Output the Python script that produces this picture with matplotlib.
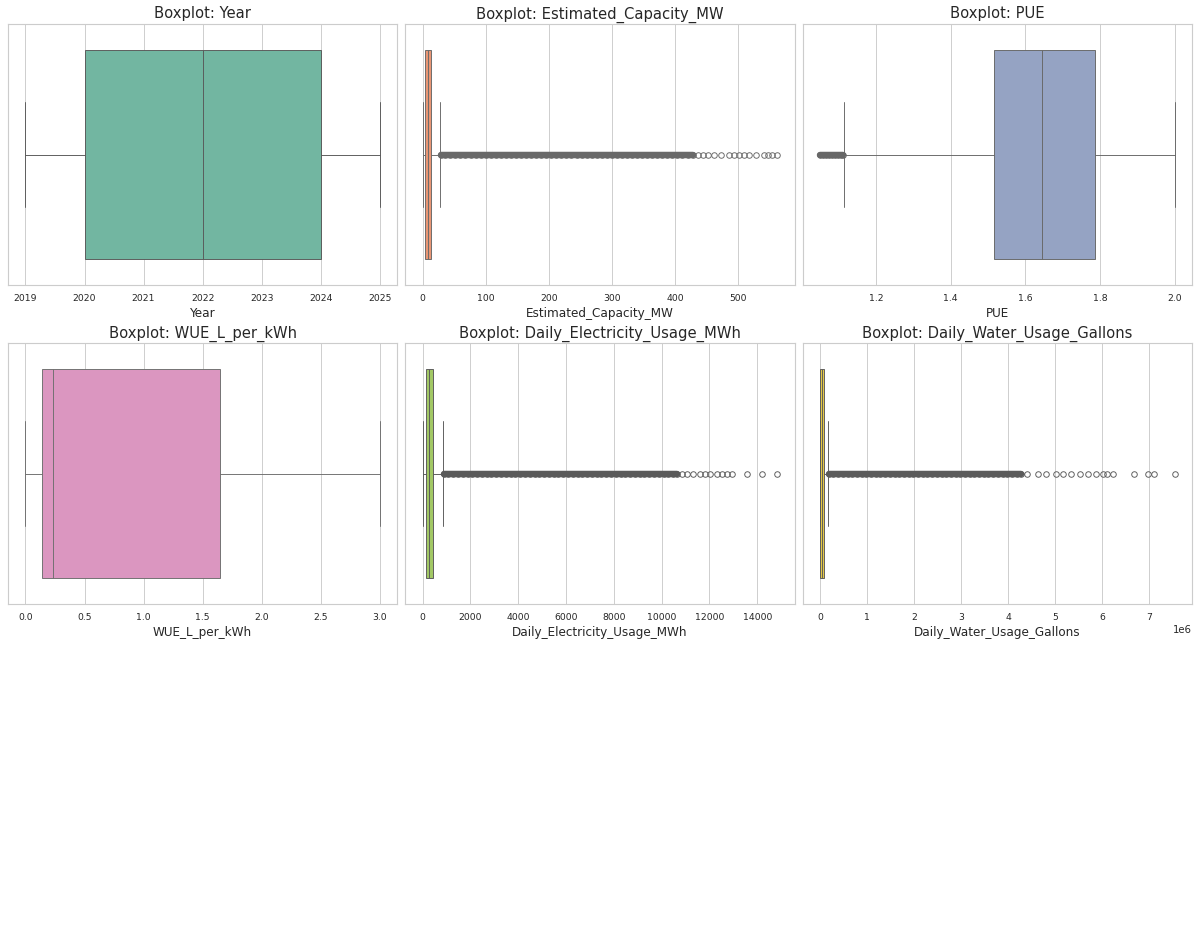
"""Boxplots of the data-centre numeric columns, one panel per column."""

import matplotlib

matplotlib.use("Agg")

import matplotlib.pyplot as plt
import seaborn as sns

COLUMNS = [
    "Year",
    "Estimated_Capacity_MW",
    "PUE",
    "WUE_L_per_kWh",
    "Daily_Electricity_Usage_MWh",
    "Daily_Water_Usage_Gallons",
]

# box stats: whislo, q1, median, q3, whishi
WHISLO = [2019, 0.5, 1.113, 0.0, 10, 0]
Q1 = [2020, 4.0, 1.516, 0.136, 140, 2000]
MEDIAN = [2022, 8.0, 1.644, 0.233, 252, 30000]
Q3 = [2024, 13.5, 1.787, 1.65, 433, 70000]
WHISHI = [2025, 27.0, 2.0, 3.0, 865, 170000]

# outliers packed so tightly they read as a solid band
DENSE_YEAR = []
DENSE_CAPACITY = [
    29, 36, 44, 52, 60, 68, 76, 84, 92, 100, 108, 116, 124, 132, 140, 148,
    156, 164, 172, 180, 188, 196, 204, 212, 220, 228, 236, 244, 252, 260,
    268, 276, 284, 292, 300, 308, 316, 324, 332, 340, 348, 356, 364, 372,
    380, 388, 396, 404, 412, 420, 428,
]
DENSE_PUE = [1.05, 1.058, 1.066, 1.074, 1.082, 1.09, 1.098, 1.106, 1.11]
DENSE_WUE = []
DENSE_ELECTRICITY = [
    880, 1080, 1280, 1480, 1680, 1880, 2080, 2280, 2480, 2680, 2880, 3080,
    3280, 3480, 3680, 3880, 4080, 4280, 4480, 4680, 4880, 5080, 5280, 5480,
    5680, 5880, 6080, 6280, 6480, 6680, 6880, 7080, 7280, 7480, 7680, 7880,
    8080, 8280, 8480, 8680, 8880, 9080, 9280, 9480, 9680, 9880, 10080,
    10280, 10480, 10640,
]
DENSE_WATER = [
    180000, 280000, 380000, 480000, 580000, 680000, 780000, 880000, 980000,
    1080000, 1180000, 1280000, 1380000, 1480000, 1580000, 1680000, 1780000,
    1880000, 1980000, 2080000, 2180000, 2280000, 2380000, 2480000, 2580000,
    2680000, 2780000, 2880000, 2980000, 3080000, 3180000, 3280000, 3380000,
    3480000, 3580000, 3680000, 3780000, 3880000, 3980000, 4080000, 4180000,
    4280000,
]

# outliers that still show as separate circles
SPARSE_YEAR = []
SPARSE_CAPACITY = [
    436, 444, 452, 462, 473, 486, 494, 502, 510, 518, 529, 542, 547, 554,
    562,
]
SPARSE_PUE = []
SPARSE_WUE = []
SPARSE_ELECTRICITY = [
    10840, 11050, 11330, 11610, 11820, 12030, 12310, 12520, 12730, 12940,
    13570, 14200, 14830,
]
SPARSE_WATER = [
    4410000, 4630000, 4800000, 5020000, 5160000, 5340000, 5520000, 5700000,
    5860000, 6020000, 6110000, 6230000, 6680000, 6980000, 7110000, 7540000,
]

DENSE = [
    DENSE_YEAR,
    DENSE_CAPACITY,
    DENSE_PUE,
    DENSE_WUE,
    DENSE_ELECTRICITY,
    DENSE_WATER,
]
SPARSE = [
    SPARSE_YEAR,
    SPARSE_CAPACITY,
    SPARSE_PUE,
    SPARSE_WUE,
    SPARSE_ELECTRICITY,
    SPARSE_WATER,
]


def line_gray(color):
    # seaborn's "auto" line colour: a gray at 60% of the fill's lightness
    lum = (max(color) + min(color)) / 2 * 0.6
    return (lum, lum, lum)


def main() -> None:
    sns.set_theme(style="whitegrid")
    palette = sns.color_palette("Set2")

    fig, axes = plt.subplots(3, 3, figsize=(18, 13.965))
    axes = axes.flatten()

    for i, col in enumerate(COLUMNS):
        ax = axes[i]
        base = palette[i]
        face = sns.desaturate(base, 0.75)
        gray = line_gray(base)
        stats = [
            {
                "whislo": WHISLO[i],
                "q1": Q1[i],
                "med": MEDIAN[i],
                "q3": Q3[i],
                "whishi": WHISHI[i],
                "fliers": DENSE[i] + SPARSE[i],
            }
        ]
        ax.bxp(
            stats,
            positions=[0],
            widths=0.8,
            capwidths=0.4,
            orientation="horizontal",
            patch_artist=True,
            manage_ticks=False,
            boxprops={"facecolor": face, "edgecolor": gray, "linewidth": 1},
            medianprops={"color": gray, "linewidth": 1},
            whiskerprops={"color": gray, "linewidth": 1},
            capprops={"color": gray, "linewidth": 1},
            flierprops={
                "marker": "o",
                "markersize": 6,
                "markerfacecolor": "none",
                "markeredgecolor": gray,
                "markeredgewidth": 1,
            },
        )
        if DENSE[i]:
            # overlapping circles merge into a solid run
            ax.plot(
                DENSE[i],
                [0] * len(DENSE[i]),
                color=gray,
                linewidth=7,
                solid_capstyle="round",
                zorder=3,
            )
        ax.set_ylim(0.5, -0.5)
        ax.set_yticks([])
        ax.set_title(f"Boxplot: {col}", fontsize=16)
        ax.set_xlabel(col, fontsize=13)
        ax.tick_params(axis="x", labelsize=10)

    for ax in axes[len(COLUMNS):]:
        fig.delaxes(ax)

    plt.tight_layout(pad=0.7)
    fig.savefig("out.png", dpi=200 / 3)
    plt.close(fig)


if __name__ == "__main__":
    main()
